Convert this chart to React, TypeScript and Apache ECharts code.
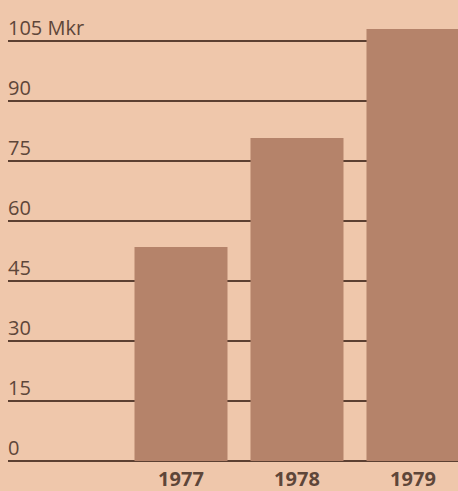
import React, { useEffect, useRef } from "react";
import * as echarts from "echarts";

const years = ["1977", "1978", "1979"];
const values = [53.5, 80.75, 108];
const yTicks = [0, 15, 30, 45, 60, 75, 90, 105];
const unitLabel = "Mkr";

export default function App() {
  const ref = useRef<HTMLDivElement>(null);
  useEffect(() => {
    document.body.style.margin = "0";
    const chart = echarts.init(ref.current!, null, { renderer: "svg" });
    const lineColor = "#5c4032";
    const textColor = "#5e4639";
    const font = "Open Sans";
    chart.setOption({
      animation: false,
      backgroundColor: "#efc7ab",
      textStyle: { fontFamily: font },
      grid: [
        { left: 8, right: 0, top: 41, bottom: 30 },
        { left: 123, right: 0, top: 13, bottom: 30 },
      ],
      xAxis: [
        { type: "value", gridIndex: 0, show: false, min: 0, max: 1 },
        {
          type: "value",
          gridIndex: 1,
          min: -0.5,
          max: 2.388,
          splitLine: { show: false },
          axisLine: { show: false },
          axisTick: { show: false },
          axisLabel: {
            customValues: [0, 1, 2],
            formatter: (v: number) => years[Math.round(v)] ?? "",
            color: textColor,
            fontFamily: font,
            fontWeight: "bold",
            fontSize: 20,
            margin: 7,
            verticalAlign: "top",
          },
        },
      ],
      yAxis: [
        {
          type: "value",
          gridIndex: 0,
          min: 0,
          max: 105,
          interval: 15,
          axisLine: { show: false },
          axisTick: { show: false },
          splitLine: { show: true, lineStyle: { color: lineColor, width: 2 } },
          axisLabel: {
            inside: true,
            margin: 0,
            align: "left",
            verticalAlign: "bottom",
            padding: [0, 0, 4, 0],
            color: textColor,
            fontFamily: font,
            fontSize: 20,
            formatter: (v: number) =>
              v === yTicks[yTicks.length - 1] ? `${v} ${unitLabel}` : `${v}`,
          },
        },
        {
          type: "value",
          gridIndex: 1,
          min: 0,
          max: 112,
          show: false,
        },
      ],
      series: [
        {
          type: "bar",
          xAxisIndex: 1,
          yAxisIndex: 1,
          data: values.map((v, i) => [i, v]),
          barWidth: 93,
          itemStyle: { color: "#b5836a" },
          z: 5,
        },
      ],
    });
    return () => chart.dispose();
  }, []);
  return <div ref={ref} style={{ width: 458, height: 491 }} />;
}
